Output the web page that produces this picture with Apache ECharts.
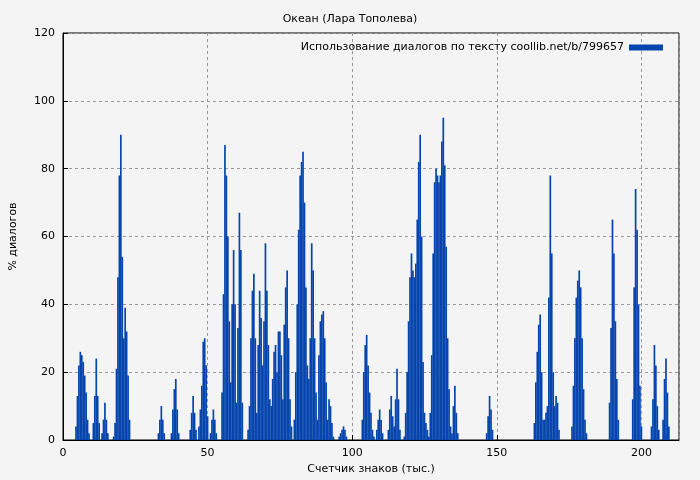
<!DOCTYPE html>
<html><head><meta charset="utf-8">
<script src="https://cdn.jsdelivr.net/npm/echarts@6/dist/echarts.min.js"></script>
<style>html,body{margin:0;padding:0;background:#f4f4f4}#c{width:700px;height:480px}</style>
</head><body><div id="c"></div>
<script>
const title = 'Океан (Лара Тополева)';
const legendName = 'Использование диалогов по тексту coollib.net/b/799657';
const xTicks = [0, 50, 100, 150, 200];
const yTicks = [0, 20, 40, 60, 80, 100, 120];
const step = 0.5;
// cluster start positions (thousand chars) and the % values at each step
const clusterStarts = [4.5, 10.5, 13.5, 17.5, 33, 37.5, 44, 47, 51, 55, 64, 80, 95.5, 103.5, 108.5, 112.5, 118, 127, 134.5, 146.5, 163, 176, 189, 197, 203.5, 207.5];
const clusterValues = [
  [4,13,22,26,25,23,19,14,6,2],
  [5,13,24,13,5],
  [2,6,11,6,2],
  [1,5,21,48,78,90,54,30,39,32,19,6],
  [2,6,10,6,2],
  [2,9,15,18,9,2],
  [3,8,13,8,3],
  [4,9,16,29,30,22,7],
  [2,6,9,6,2],
  [14,43,87,78,60,35,17,40,56,40,11,33,67,56,11],
  [3,10,30,44,49,30,8,28,44,36,22,35,58,44,28,12,10,18,26,28,20,32,32,25,12,34,45,50,30,12,4],
  [6,20,40,62,78,82,85,70,45,22,18,30,58,50,30,14,6,25,35,37,38,30,17,6,12,10,5,1],
  [1,2,3,4,3,1],
  [6,20,28,31,22,14,8,3,1],
  [3,6,9,6,2],
  [3,9,13,7,4,12,21,12,3],
  [1,8,20,35,48,55,50,48,52,65,82,90,60,23,8,5,3,1],
  [8,25,55,76,80,78,76,78,88,95,81,57,30,15,4],
  [2,10,16,8,2],
  [2,7,13,9,3],
  [5,17,26,34,37,20,6,6,8,10,42,78,55,20,10,13,11,3],
  [4,16,30,42,47,50,45,30,15,6,2],
  [11,33,65,55,35,18,6],
  [12,45,74,62,40,16,4],
  [4,12,28,22,10,3],
  [6,18,24,14,4]
];
const data = [];
clusterStarts.forEach((s, i) => clusterValues[i].forEach((v, j) => data.push([s + j * step, v])));
const font = 'DejaVu Sans';
const chart = echarts.init(document.getElementById('c'));
chart.setOption({
  backgroundColor: '#f4f4f4',
  animation: false,
  title: {text: title, left: 'center', top: 9, textStyle: {fontFamily: font, fontSize: 11, fontWeight: 'normal', color: '#000'}},
  legend: {data: [legendName], right: 32, top: 37, align: 'right', itemWidth: 34, itemHeight: 6, itemGap: 8,
    icon: 'rect', textStyle: {fontFamily: font, fontSize: 11, color: '#000'}},
  grid: {left: 61, right: 21, top: 33, bottom: 40, show: true, borderColor: '#000', borderWidth: 1, backgroundColor: 'transparent'},
  xAxis: {type: 'value', min: 0, max: 213, interval: 50, name: 'Счетчик знаков (тыс.)', nameLocation: 'middle', nameGap: 24,
    nameTextStyle: {fontFamily: font, fontSize: 11, color: '#000'},
    axisLine: {lineStyle: {color: '#000'}}, axisTick: {show: true, inside: true, lineStyle: {color: '#000'}},
    axisLabel: {fontFamily: font, fontSize: 11, color: '#000', showMaxLabel: false, formatter: v => xTicks.includes(v) ? String(v) : ''},
    splitLine: {lineStyle: {color: '#999', type: [3, 3]}}},
  yAxis: {type: 'value', min: 0, max: 120, interval: 20, name: '% диалогов', nameLocation: 'middle', nameGap: 44,
    nameTextStyle: {fontFamily: font, fontSize: 11, color: '#000'},
    axisLine: {show: true, lineStyle: {color: '#000'}}, axisTick: {show: true, inside: true, lineStyle: {color: '#000'}},
    axisLabel: {fontFamily: font, fontSize: 11, color: '#000', formatter: v => yTicks.includes(v) ? String(v) : ''},
    splitLine: {lineStyle: {color: '#999', type: [3, 3]}}},
  series: [{name: legendName, type: 'bar', data: data, barWidth: 1.7, itemStyle: {color: '#0645AD'}, large: false}]
});
</script></body></html>
